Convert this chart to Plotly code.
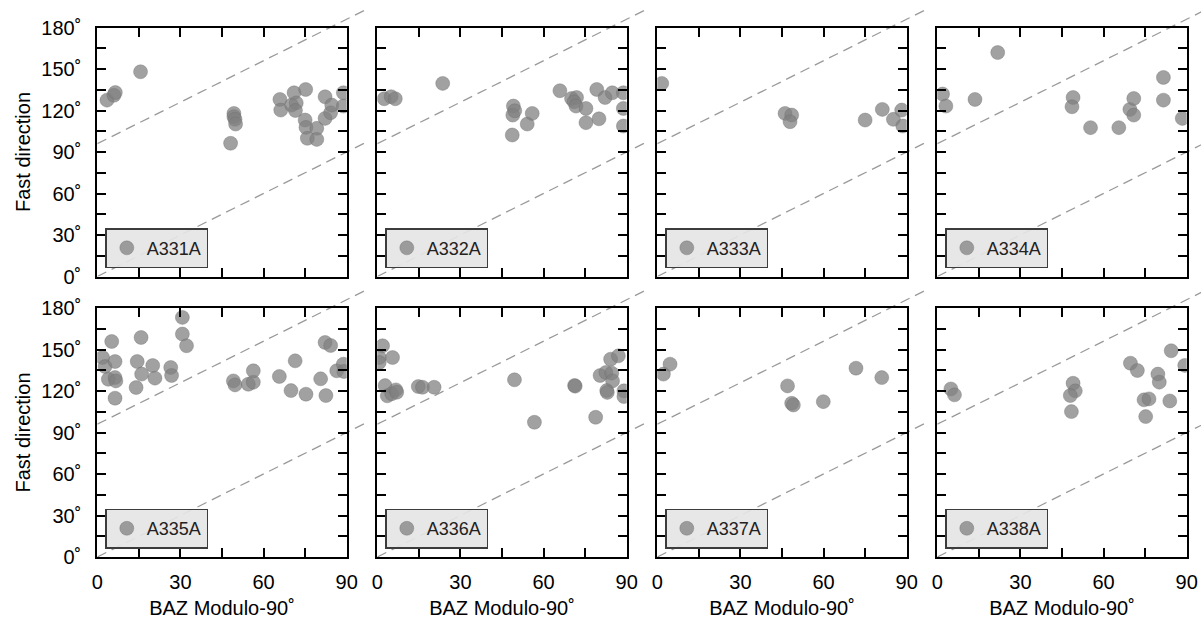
import plotly.graph_objects as go

# Station names, one panel each
stations = ["A331A", "A332A", "A333A", "A334A", "A335A", "A336A", "A337A", "A338A"]

# Back-azimuth modulo 90 (deg) and fast direction (deg) for each station
baz_a331a = [3.5, 6.0, 6.5, 15.6, 49.3, 49.3, 49.7, 49.9, 48.1, 65.9, 66.2, 70.1, 71.0, 71.8, 71.5,
             75.2, 75.0, 75.3, 75.8, 79.2, 79.2, 82.2, 82.2, 84.2, 84.6, 88.8, 88.8]
phi_a331a = [127.5, 131.0, 133.0, 148.0, 117.9, 115.5, 113.6, 110.2, 96.3, 128.0, 120.3, 123.9, 132.8, 125.5, 120.0,
             135.2, 113.1, 107.8, 99.9, 107.1, 99.1, 129.9, 114.3, 118.4, 123.9, 132.8, 123.2]

baz_a332a = [2.5, 5.0, 6.5, 23.6, 49.1, 48.9, 49.6, 48.7, 54.1, 55.9, 65.9, 70.1, 71.9, 71.0, 71.7,
             75.3, 75.3, 79.2, 80.0, 82.2, 84.8, 88.8, 88.8, 88.8]
phi_a332a = [128.5, 130.0, 128.5, 139.6, 123.2, 116.7, 119.8, 102.3, 110.2, 117.9, 134.3, 128.7, 129.4, 126.3, 123.2,
             121.5, 111.2, 135.2, 114.0, 129.4, 132.8, 132.8, 121.5, 108.8]

baz_a333a = [1.6, 46.1, 48.5, 47.9, 75.0, 81.2, 85.2, 88.2, 88.6]
phi_a333a = [139.6, 117.9, 116.7, 111.9, 113.1, 120.8, 113.6, 120.3, 108.8]

baz_a334a = [1.9, 3.1, 13.6, 21.8, 49.0, 48.6, 55.3, 65.5, 69.5, 70.9, 70.9, 81.6, 81.6, 88.4]
phi_a334a = [131.9, 123.2, 128.0, 161.9, 129.4, 122.7, 107.6, 107.6, 120.8, 128.7, 116.7, 143.9, 127.5, 114.3]

baz_a335a = [1.9, 2.8, 4.0, 5.2, 6.4, 6.4, 6.7, 6.4, 14.0, 14.4, 15.8, 16.0, 20.0, 20.8, 26.5, 26.8,
             30.7, 30.7, 32.2, 49.1, 49.7, 54.5, 56.3, 56.3, 65.7, 69.9, 71.4, 75.3, 80.6, 82.5,
             82.2, 84.2, 86.4, 88.8, 89.0]
phi_a335a = [144.2, 137.7, 128.5, 155.8, 141.3, 129.7, 127.3, 114.8, 122.5, 141.3, 158.7, 132.2, 138.4, 129.3, 137.0, 131.2,
             173.2, 161.2, 152.7, 127.3, 124.4, 124.9, 126.4, 134.6, 130.5, 120.3, 141.8, 117.7, 128.8, 116.7,
             155.1, 152.9, 134.6, 139.4, 134.1]

baz_a336a = [1.9, 0.7, 0.7, 5.5, 2.8, 3.6, 5.2, 6.7, 7.0, 14.8, 16.3, 20.5, 49.5, 56.7, 71.2, 71.4,
             78.8, 80.4, 82.5, 84.6, 84.9, 82.8, 83.0, 84.2, 87.0, 89.0, 89.0]
phi_a336a = [152.7, 144.2, 140.6, 144.2, 123.9, 116.5, 118.0, 120.8, 119.1, 123.2, 122.7, 122.7, 128.1, 97.4, 124.0, 123.5,
             101.0, 131.2, 133.4, 132.9, 127.3, 120.3, 119.0, 143.0, 145.4, 120.1, 116.0]

baz_a337a = [2.2, 4.6, 47.0, 48.5, 49.1, 59.9, 71.7, 81.0]
phi_a337a = [132.2, 139.4, 123.7, 111.1, 109.9, 112.3, 136.5, 129.7]

baz_a338a = [4.9, 6.2, 49.0, 49.8, 48.0, 48.4, 69.7, 72.2, 74.6, 76.4, 75.2, 79.6, 80.1, 83.9, 84.4, 89.3]
phi_a338a = [121.5, 117.2, 125.6, 120.1, 116.7, 105.1, 140.1, 134.8, 113.6, 114.3, 101.5, 132.2, 126.4, 112.8, 149.1, 138.5]

baz_data = [baz_a331a, baz_a332a, baz_a333a, baz_a334a, baz_a335a, baz_a336a, baz_a337a, baz_a338a]
phi_data = [phi_a331a, phi_a332a, phi_a333a, phi_a334a, phi_a335a, phi_a336a, phi_a337a, phi_a338a]

# Axis ticks
x_tickvals = [0, 30, 60, 90]
x_ticktext = ["0", "30", "60", "90"]
y_tickvals = [0, 30, 60, 90, 120, 150, 180]
y_ticktext = ["0˚", "30˚", "60˚", "90˚", "120˚", "150˚", "180˚"]

# Reference lines: fast direction = BAZ + offset
line_baz = [0, 96.5]
line_offsets = [0, 96]

X_RANGE = [0, 90]
Y_RANGE = [0, 180]
LINE_X_MAX = 97.0
LINE_Y_MAX = 194.0

# Page geometry (pixels)
W, H = 1201, 619
COL_LEFT = [97.3, 377.3, 657.3, 937.3]
ROW_TOP = [27.5, 308.0]
PANEL_W = 249.4
PANEL_H = 249.0

FONT = "Liberation Sans, Arial, Helvetica, sans-serif"
AXIS_FONT = dict(family=FONT, size=20, color="black")


def fx(p):
    return p / W


def fy(p):
    return 1 - p / H


fig = go.Figure()
layout = {}
n = len(stations)

for i, name in enumerate(stations):
    r, c = divmod(i, 4)
    x0 = COL_LEFT[c]
    x1 = x0 + PANEL_W
    y0 = ROW_TOP[r]
    y1 = y0 + PANEL_H

    # reference-line axes (invisible, same scale, extended past the frame)
    kl = i + 1
    ext_x1 = min(x0 + PANEL_W * LINE_X_MAX / X_RANGE[1], W)
    lx_max = (ext_x1 - x0) / PANEL_W * X_RANGE[1]
    ext_y0 = y1 - PANEL_H * LINE_Y_MAX / Y_RANGE[1]
    sl = "" if kl == 1 else str(kl)
    layout["xaxis" + sl] = dict(domain=[fx(x0), fx(ext_x1)], range=[0, lx_max], visible=False,
                                fixedrange=True, anchor="y" + sl)
    layout["yaxis" + sl] = dict(domain=[fy(y1), fy(ext_y0)], range=[0, LINE_Y_MAX], visible=False,
                                fixedrange=True, anchor="x" + sl)
    for off in line_offsets:
        fig.add_trace(go.Scatter(
            x=line_baz, y=[b + off for b in line_baz], mode="lines",
            line=dict(color="#9a9a9a", width=1.3, dash="10px,6px"),
            xaxis="x" + sl, yaxis="y" + sl, showlegend=False, hoverinfo="skip",
        ))

    # data axes
    k = i + 1 + n
    s = str(k)
    bottom = r == 1
    left = c == 0
    common = dict(
        showline=True, linewidth=2, linecolor="black", mirror="ticks",
        ticks="inside", ticklen=9, tickwidth=2, tickcolor="black",
        showgrid=False, zeroline=False, fixedrange=True, automargin=False,
        tickfont=AXIS_FONT,
    )
    layout["xaxis" + s] = dict(
        common, domain=[fx(x0), fx(x1)], range=X_RANGE, anchor="y" + s,
        tickmode="array", tickvals=x_tickvals, ticktext=x_ticktext,
        showticklabels=bottom, ticklabelstandoff=6,
        minor=dict(dtick=15, tick0=0, ticks="inside", ticklen=9, tickwidth=2, tickcolor="black"),
        title=dict(text="BAZ Modulo-90˚" if bottom else "", standoff=11, font=AXIS_FONT),
    )
    layout["yaxis" + s] = dict(
        common, domain=[fy(y1), fy(y0)], range=Y_RANGE, anchor="x" + s,
        tickmode="array", tickvals=y_tickvals, ticktext=y_ticktext,
        showticklabels=left, ticklabelstandoff=10,
        minor=dict(dtick=15, tick0=0, ticks="inside", ticklen=9, tickwidth=2, tickcolor="black"),
        title=dict(text="Fast direction" if left else "", standoff=5, font=AXIS_FONT),
    )

    lg = "legend" if i == 0 else "legend" + str(i + 1)
    layout[lg] = dict(
        x=fx(x0 + 8.0), y=fy(y1 - 8.4), xanchor="left", yanchor="bottom",
        xref="paper", yref="paper",
        bgcolor="rgba(229,229,229,0.92)", bordercolor="#3c3c3c", borderwidth=1.5,
        font=dict(family=FONT, size=18, color="#222222"),
    )
    fig.add_trace(go.Scatter(
        x=baz_data[i], y=phi_data[i], mode="markers", name=name,
        marker=dict(size=14, color="rgba(128,128,128,0.74)",
                    line=dict(color="rgba(110,110,110,0.6)", width=0.6)),
        xaxis="x" + s, yaxis="y" + s, legend=lg, showlegend=True,
    ))

fig.update_layout(
    width=W, height=H,
    margin=dict(l=0, r=0, t=0, b=0, pad=0, autoexpand=False),
    paper_bgcolor="white", plot_bgcolor="rgba(0,0,0,0)",
    font=dict(family=FONT, size=18, color="black"),
    **layout,
)

fig.write_html("out.html")
